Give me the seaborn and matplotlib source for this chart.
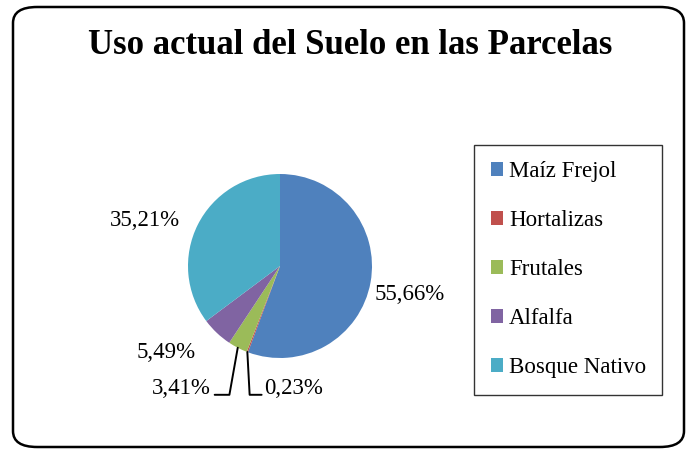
import numpy as np
import seaborn as sns
import matplotlib.pyplot as plt
from matplotlib.patches import FancyBboxPatch

categorias = ["Maíz Frejol", "Hortalizas", "Frutales", "Alfalfa", "Bosque Nativo"]
porcentajes = [55.66, 0.23, 3.41, 5.49, 35.21]
colores = ["#4F81BD", "#C0504D", "#9BBB59", "#8064A2", "#4BACC6"]

sns.set_theme(style="white")
plt.rcParams["font.family"] = ["Liberation Serif", "DejaVu Serif"]
plt.rcParams["text.color"] = "black"

fig = plt.figure(figsize=(6.91, 4.55), dpi=100)
W, H = 691, 455

# marco redondeado del grafico
marco = FancyBboxPatch((13 / W, 8 / H), 671 / W, 440 / H,
                       boxstyle="round,pad=0,rounding_size=0.035",
                       transform=fig.transFigure, fill=False,
                       edgecolor="black", linewidth=1.8)
fig.patches.append(marco)

fig.text(350 / W, 1 - 46 / H, "Uso actual del Suelo en las Parcelas",
         ha="center", va="center", fontsize=25, fontweight="bold")

cx, cy, r = 280, 266, 92
ax = fig.add_axes([(cx - r) / W, (H - cy - r) / H, 2 * r / W, 2 * r / H])
wedges, _ = ax.pie(porcentajes, colors=colores, startangle=90, counterclock=False,
                   wedgeprops=dict(linewidth=0))
ax.set_xlim(-1, 1)
ax.set_ylim(-1, 1)
ax.set_aspect("equal")
ax.axis("off")

def fmt(v):
    return f"{v:.2f}".replace(".", ",") + "%"

fs = 16.5
for w, v, cat in zip(wedges, porcentajes, categorias):
    ang = np.deg2rad((w.theta1 + w.theta2) / 2)
    x, y = np.cos(ang), np.sin(ang)
    if cat == "Maíz Frejol":
        ax.text(1.03, y * 1.1 - 0.12, fmt(v), ha="left", va="center", fontsize=fs, clip_on=False)
    elif cat == "Bosque Nativo":
        ax.text(x * 1.22, y * 1.1, fmt(v), ha="right", va="center", fontsize=fs, clip_on=False)
    elif cat == "Alfalfa":
        ax.text(x * 1.33, y * 1.3, fmt(v), ha="right", va="center", fontsize=fs, clip_on=False)
    elif cat == "Frutales":
        ax.plot([x, -0.55, -0.71], [y, -1.40, -1.40], color="black", lw=1.4, clip_on=False)
        ax.text(-0.75, -1.33, fmt(v), ha="right", va="center", fontsize=fs, clip_on=False)
    elif cat == "Hortalizas":
        ax.plot([x, -0.33, -0.2], [y, -1.40, -1.40], color="black", lw=1.4, clip_on=False)
        ax.text(-0.17, -1.33, fmt(v), ha="left", va="center", fontsize=fs, clip_on=False)

leg = fig.legend(wedges, categorias, loc="upper left",
                 bbox_to_anchor=(474 / W, 1 - 145 / H), borderaxespad=0,
                 fontsize=16.5, frameon=True, fancybox=False, edgecolor="black",
                 handlelength=0.55, handleheight=0.55, handletextpad=0.25,
                 labelspacing=1.22, borderpad=0.72)
leg.get_frame().set_linewidth(1.0)

fig.savefig("out.png", dpi=100)
